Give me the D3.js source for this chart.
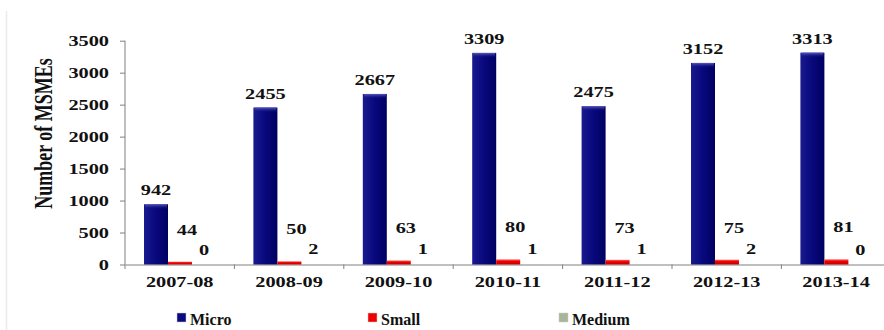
<!DOCTYPE html>
<html>
<head>
<meta charset="utf-8">
<script src="https://cdn.jsdelivr.net/npm/d3@7"></script>
<style>
  body { margin: 0; background: #fff; }
  svg { display: block; }
</style>
</head>
<body>
<svg id="chart" width="884" height="330"></svg>
<script>
// data
const years = ['2007-08', '2008-09', '2009-10', '2010-11', '2011-12', '2012-13', '2013-14'];
const series = ['Micro', 'Small', 'Medium'];
const micro = [942, 2455, 2667, 3309, 2475, 3152, 3313];
const small = [44, 50, 63, 80, 73, 75, 81];
const medium = [0, 2, 1, 1, 1, 2, 0];
const yTicks = [0, 500, 1000, 1500, 2000, 2500, 3000, 3500];

const values = {Micro: micro, Small: small, Medium: medium};
const colors = {Micro: '#0a0a80', Small: '#f00000', Medium: '#a6b696'};
const labelShift = {Micro: {dx: 0, dy: -9}, Small: {dx: 7, dy: -27}, Medium: {dx: 0, dy: -10}};
const SX = 1.4; // the source picture is stretched sideways
const FONT = '"Liberation Serif", "Times New Roman", Times, serif';

const svg = d3.select('#chart');
const left = 125, bandW = 109.4;

const x0 = d3.scaleBand().domain(years).range([left, left + bandW * years.length]).padding(0);
const x1 = d3.scaleBand().domain(series).range([19, 91]).padding(0);
const y = d3.scaleLinear().domain([0, 3500]).range([264.5, 40.7]);

// gradients
const defs = svg.append('defs');
const gMicro = defs.append('linearGradient').attr('id', 'gMicro').attr('x1', 0).attr('x2', 1).attr('y1', 0).attr('y2', 0);
gMicro.append('stop').attr('offset', 0).attr('stop-color', '#1a1a90');
gMicro.append('stop').attr('offset', 0.5).attr('stop-color', '#08087c');
gMicro.append('stop').attr('offset', 1).attr('stop-color', '#000062');
const gSmall = defs.append('linearGradient').attr('id', 'gSmall').attr('x1', 0).attr('x2', 0).attr('y1', 0).attr('y2', 1);
gSmall.append('stop').attr('offset', 0).attr('stop-color', '#ff6060');
gSmall.append('stop').attr('offset', 0.4).attr('stop-color', '#f00000');
gSmall.append('stop').attr('offset', 1).attr('stop-color', '#c00000');
const gTop = defs.append('linearGradient').attr('id', 'gTop').attr('x1', 0).attr('x2', 0).attr('y1', 0).attr('y2', 1);
gTop.append('stop').attr('offset', 0).attr('stop-color', '#5a5ac0');
gTop.append('stop').attr('offset', 1).attr('stop-color', '#0a0a80').attr('stop-opacity', 0);
const fills = {Micro: 'url(#gMicro)', Small: 'url(#gSmall)', Medium: colors.Medium};

// faint frame line on the left
svg.append('line').attr('x1', 6.5).attr('x2', 6.5).attr('y1', 11).attr('y2', 330)
  .attr('stroke', '#ebebeb').attr('stroke-width', 1.5);

function styleText(sel, size) {
  sel.attr('font-family', FONT).attr('font-weight', 'bold')
    .attr('font-size', size).attr('fill', '#111');
}

// y axis
const yAxis = svg.append('g').attr('transform', `translate(${left},0)`)
  .call(d3.axisLeft(y).tickValues(yTicks).tickFormat(d3.format('d')).tickSize(5).tickSizeOuter(0));
yAxis.select('.domain').attr('d', `M0,${y(3500)}V${y(0) + 4.5}`);
yAxis.selectAll('path,line').attr('stroke', '#808080');
yAxis.selectAll('text')
  .attr('x', null).attr('dy', '0.33em')
  .attr('transform', `translate(-16,0) scale(${SX},1)`)
  .call(styleText, 14.5);

// x axis
const xAxis = svg.append('g').attr('transform', `translate(0,${y(0)})`)
  .call(d3.axisBottom(x0).tickSize(0));
xAxis.select('.domain').attr('stroke', '#808080');
xAxis.selectAll('text')
  .attr('y', null).attr('dy', null)
  .attr('transform', `translate(0,22.5) scale(${SX},1)`)
  .call(styleText, 14.5);
xAxis.selectAll('.sep').data(years.slice(1)).join('line')
  .attr('class', 'sep')
  .attr('x1', d => x0(d)).attr('x2', d => x0(d))
  .attr('y1', 0).attr('y2', 4.5)
  .attr('stroke', '#808080');

// bars
const groups = svg.append('g').selectAll('g').data(years).join('g')
  .attr('transform', d => `translate(${x0(d)},0)`);

series.forEach(s => {
  groups.append('rect')
    .attr('x', x1(s))
    .attr('width', x1.bandwidth())
    .attr('y', (d, i) => y(values[s][i]))
    .attr('height', (d, i) => y(0) - y(values[s][i]))
    .attr('fill', fills[s]);
});
// bevel on the micro bars
groups.append('rect')
  .attr('x', x1('Micro') + 1)
  .attr('width', x1.bandwidth() - 2)
  .attr('y', (d, i) => y(micro[i]))
  .attr('height', 5)
  .attr('fill', 'url(#gTop)');

// value labels
series.forEach(s => {
  groups.append('text')
    .attr('text-anchor', 'middle')
    .attr('transform', (d, i) =>
      `translate(${x1(s) + x1.bandwidth() / 2 + labelShift[s].dx},${y(values[s][i]) + labelShift[s].dy}) scale(${SX},1)`)
    .call(styleText, 14.5)
    .text((d, i) => values[s][i]);
});

// y title
svg.append('text')
  .attr('transform', `translate(52,133.5) rotate(-90) scale(1,${SX})`)
  .attr('text-anchor', 'middle')
  .call(styleText, 18)
  .text('Number of MSMEs');

// legend
const legendX = [177, 368, 559];
const legend = svg.append('g').selectAll('g').data(series).join('g')
  .attr('transform', (d, i) => `translate(${legendX[i]},313)`);
legend.append('rect').attr('width', 9).attr('height', 9)
  .attr('fill', d => colors[d]).attr('stroke', '#ccc').attr('stroke-width', 0.5);
legend.append('text').attr('x', 13).attr('y', 12).call(styleText, 16).text(d => d);
</script>
</body>
</html>
